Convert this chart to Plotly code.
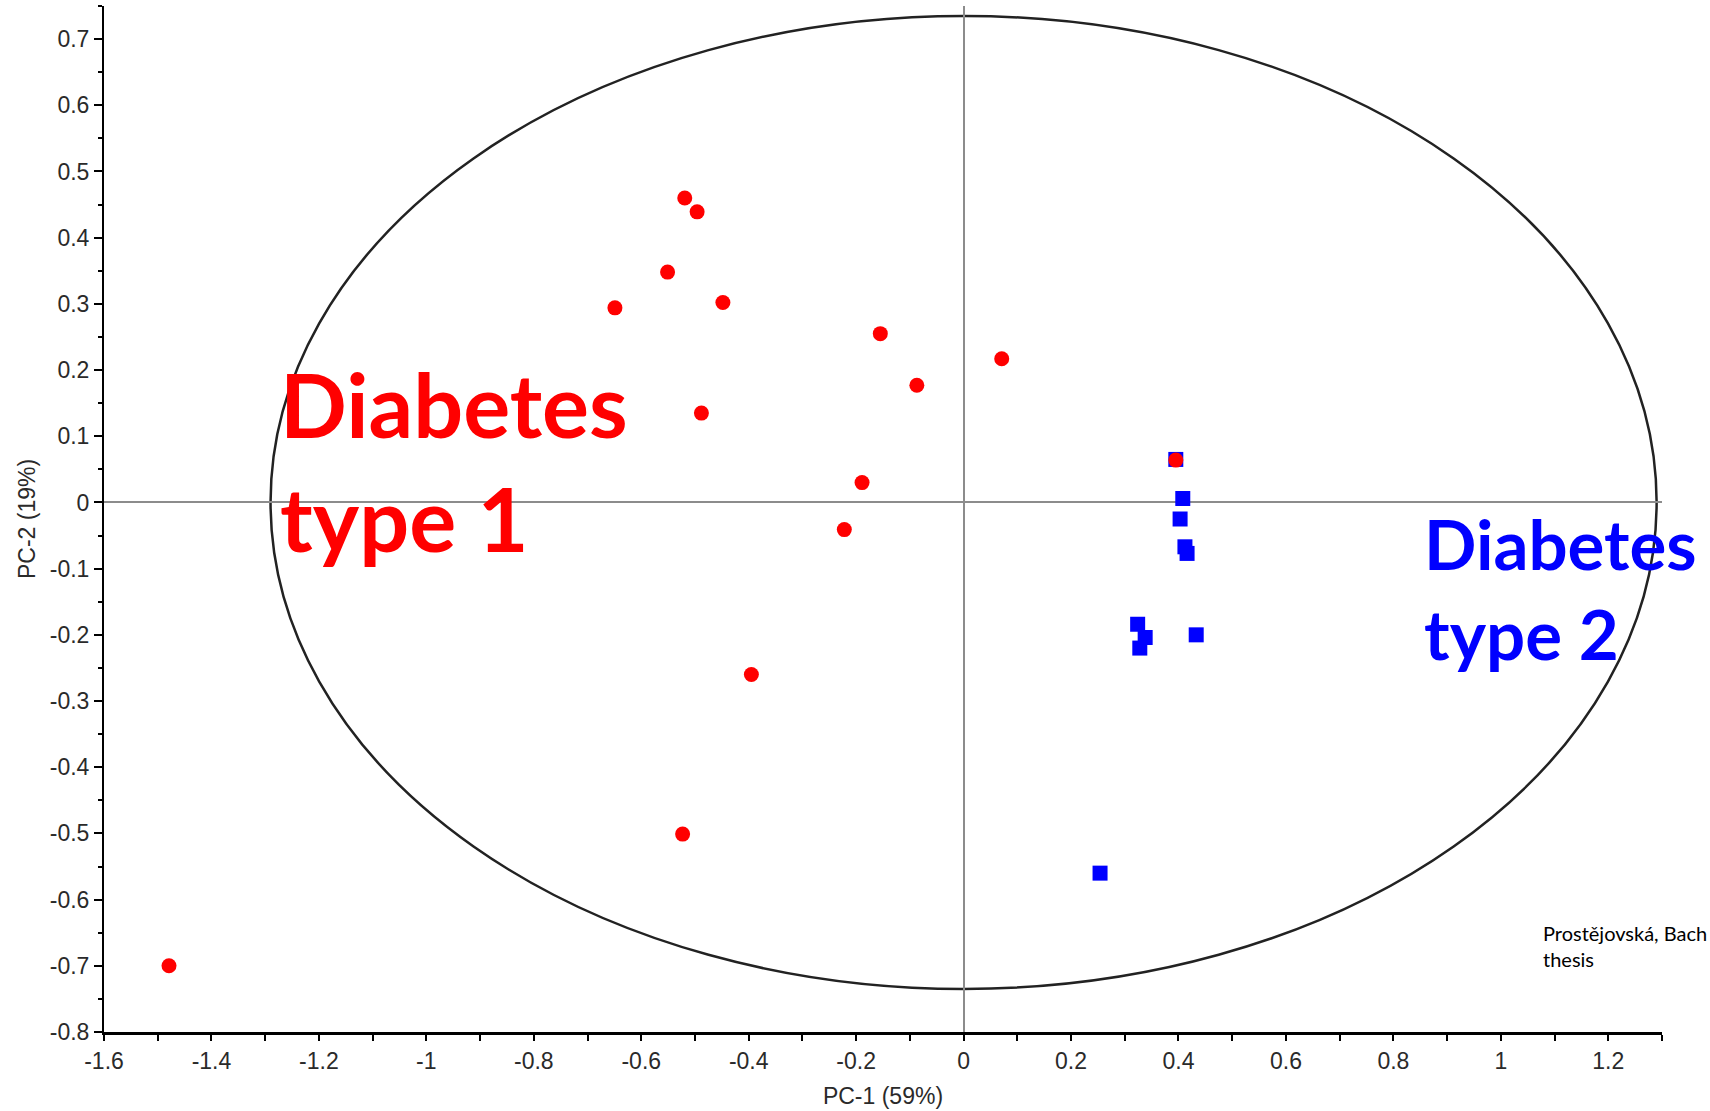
import plotly.graph_objects as go

# Diabetes type 1 (red circles)
t1_x = [-0.519, -0.496, -0.551, -0.649, -0.448, -0.155, 0.071, -0.087, -0.488,
        0.395, -0.189, -0.222, -0.395, -0.523, -1.479]
t1_y = [0.460, 0.439, 0.348, 0.294, 0.302, 0.255, 0.217, 0.177, 0.135,
        0.064, 0.030, -0.041, -0.260, -0.501, -0.700]

# Diabetes type 2 (blue squares)
t2_x = [0.395, 0.408, 0.403, 0.412, 0.416, 0.324, 0.338, 0.328, 0.433, 0.254]
t2_y = [0.065, 0.006, -0.025, -0.067, -0.077, -0.184, -0.204, -0.220, -0.200, -0.560]

# Confidence ellipse semi-axes
ell_a = 1.29
ell_b = 0.735

x_ticks = [-1.6, -1.4, -1.2, -1, -0.8, -0.6, -0.4, -0.2, 0, 0.2, 0.4, 0.6, 0.8, 1, 1.2]
y_ticks = [0.7, 0.6, 0.5, 0.4, 0.3, 0.2, 0.1, 0, -0.1, -0.2, -0.3, -0.4, -0.5, -0.6, -0.7, -0.8]

axis_font = dict(family="Liberation Sans, Arial, sans-serif", size=23, color="#2a2a2a")

fig = go.Figure()
fig.add_trace(go.Scatter(x=t2_x, y=t2_y, mode="markers",
                         marker=dict(symbol="square", size=15, color="#0000FF", line=dict(width=0)),
                         showlegend=False))
fig.add_trace(go.Scatter(x=t1_x, y=t1_y, mode="markers",
                         marker=dict(symbol="circle", size=15, color="#FF0000", line=dict(width=0)),
                         showlegend=False))

fig.add_shape(type="circle", xref="x", yref="y", x0=-ell_a, x1=ell_a, y0=-ell_b, y1=ell_b,
              line=dict(color="#222222", width=2.5), layer="below")

fig.add_annotation(x=-1.276, y=0.232, xref="x", yref="y", xanchor="left", yanchor="top",
                   text="Diabetes<br>type 1", showarrow=False, align="left",
                   font=dict(family="Lato, sans-serif", size=88, color="#FF0000", weight="bold"))
fig.add_annotation(x=0.853, y=0.003, xref="x", yref="y", xanchor="left", yanchor="top",
                   text="Diabetes<br>type 2", showarrow=False, align="left",
                   font=dict(family="Lato, sans-serif", size=69, color="#0000FF", weight="bold"))
fig.add_annotation(x=1.074, y=-0.63, xref="x", yref="y", xanchor="left", yanchor="top",
                   text="Prostějovská, Bach<br>thesis", showarrow=False, align="left",
                   font=dict(family="Lato, sans-serif", size=20, color="#000000"))

fig.update_xaxes(range=[-1.6, 1.3], tickvals=x_ticks, ticktext=[f"{v:g}" for v in x_ticks],
                 ticks="outside", ticklen=6, tickwidth=2, tickcolor="black",
                 minor=dict(dtick=0.1, tick0=0, ticks="outside", ticklen=6, tickwidth=2, tickcolor="black"),
                 showline=True, linecolor="black", linewidth=3,
                 showgrid=False, zeroline=True, zerolinecolor="#8c8c8c", zerolinewidth=2,
                 tickfont=axis_font, title=dict(text="PC-1 (59%)", font=axis_font, standoff=16))
fig.update_yaxes(range=[-0.8, 0.75], tickvals=y_ticks, ticktext=[f"{v:g}" for v in y_ticks],
                 ticks="outside", ticklen=8, tickwidth=2, tickcolor="black",
                 minor=dict(dtick=0.05, tick0=0, ticks="outside", ticklen=4, tickwidth=2, tickcolor="black"),
                 showline=True, linecolor="black", linewidth=2,
                 showgrid=False, zeroline=True, zerolinecolor="#8c8c8c", zerolinewidth=2,
                 tickfont=axis_font, title=dict(text="PC-2 (19%)", font=axis_font, standoff=8))

fig.update_layout(width=1710, height=1111, plot_bgcolor="white", paper_bgcolor="white",
                  margin=dict(l=104, r=48, t=6, b=79), showlegend=False)

fig.write_html("out.html")
